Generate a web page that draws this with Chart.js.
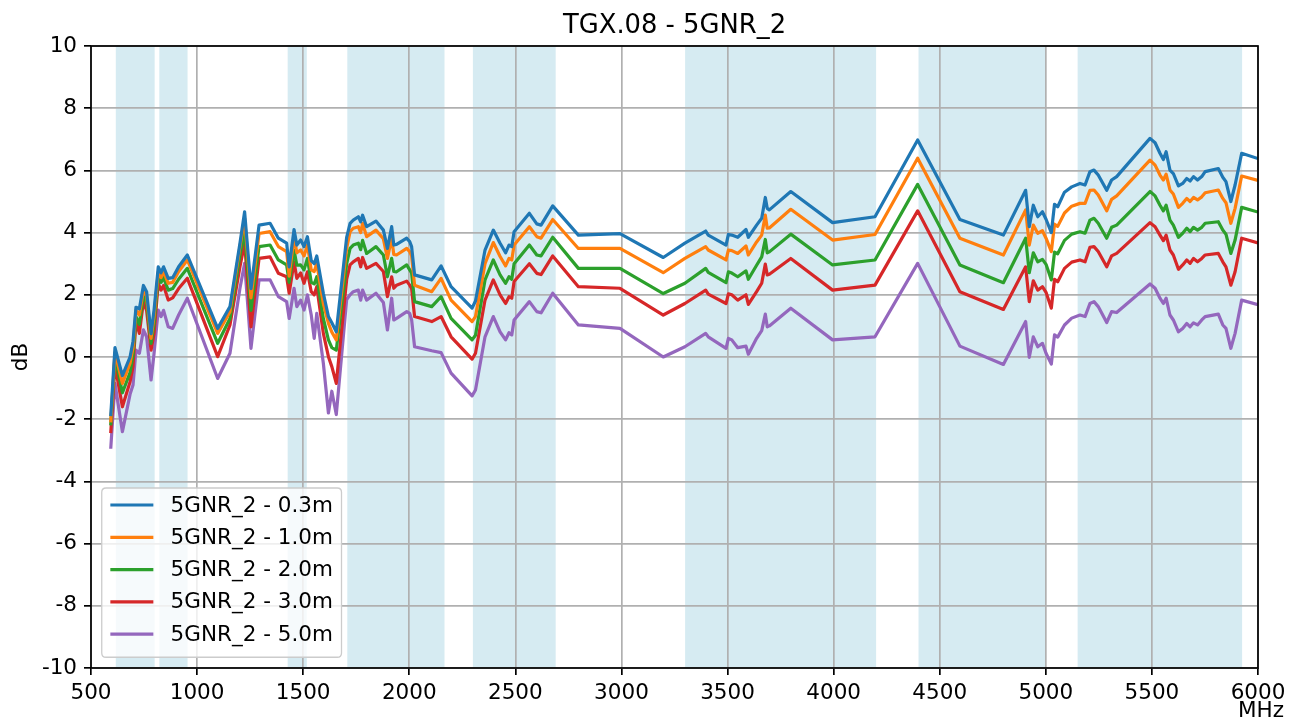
<!DOCTYPE html>
<html>
<head>
<meta charset="utf-8">
<title>TGX.08 - 5GNR_2</title>
<script src="https://cdn.jsdelivr.net/npm/chart.js@4/dist/chart.umd.min.js"></script>
<style>
  html, body { margin: 0; padding: 0; background: #ffffff; }
  #wrap { width: 1299px; height: 722px; }
</style>
</head>
<body>
<div id="wrap"><canvas id="chart" width="1299" height="722"></canvas></div>
<script>
// Frequency points (MHz), shared by all series
const freqMHz = [
  593, 613, 648, 684, 698, 712, 728, 747, 762, 783,
  797, 817, 830, 842, 864, 885, 913, 954, 1097, 1155,
  1202, 1224, 1254, 1292, 1344, 1383, 1422, 1434, 1457, 1470,
  1488, 1504, 1520, 1538, 1552, 1564, 1595, 1619, 1635, 1656,
  1705, 1721, 1736, 1760, 1771, 1780, 1799, 1843, 1878, 1897,
  1917, 1927, 1940, 1988, 2002, 2011, 2025, 2106, 2150, 2197,
  2296, 2312, 2357, 2396, 2428, 2454, 2470, 2483, 2494, 2566,
  2601, 2621, 2676, 2797, 2993, 3197, 3299, 3397, 3409, 3493,
  3504, 3520, 3548, 3587, 3598, 3637, 3661, 3678, 3687, 3697,
  3798, 3995, 4195, 4396, 4595, 4800, 4905, 4922, 4941, 4962,
  4984, 5001, 5026, 5041, 5056, 5088, 5122, 5161, 5185, 5208,
  5227, 5247, 5287, 5310, 5334, 5491, 5515, 5538, 5554, 5567,
  5585, 5601, 5625, 5645, 5664, 5680, 5696, 5715, 5735, 5751,
  5813, 5834, 5849, 5872, 5892, 5923, 6000
];

// Level (dB) per distance
const gain03m = [
  -1.9, 0.3, -0.6, 0.0, 0.5, 1.6, 1.55, 2.3, 2.1, 0.75,
  1.5, 2.9, 2.71, 2.9, 2.53, 2.55, 2.9, 3.28, 0.92, 1.62,
  3.66, 4.67, 2.2, 4.24, 4.3, 3.82, 3.66, 2.9, 4.1, 3.6,
  3.76, 3.55, 3.87, 3.1, 3.0, 3.25, 2.05, 1.3, 1.1, 0.81,
  3.85, 4.3, 4.4, 4.51, 4.35, 4.56, 4.19, 4.37, 4.08, 3.49,
  4.19, 3.6, 3.62, 3.82, 3.71, 3.55, 2.64, 2.48, 2.93, 2.26,
  1.57, 1.8, 3.44, 4.08, 3.66, 3.35, 3.6, 3.55, 4.03, 4.62,
  4.28, 4.24, 4.86, 3.92, 3.97, 3.2, 3.66, 4.05, 3.92, 3.6,
  3.94, 3.92, 3.85, 4.1, 3.85, 4.24, 4.46, 5.13, 4.78, 4.73,
  5.32, 4.32, 4.51, 6.98, 4.42, 3.92, 5.36, 4.19, 4.88, 4.51,
  4.67, 4.43, 4.0, 4.91, 4.83, 5.3, 5.47, 5.58, 5.53, 5.96,
  6.01, 5.85, 5.36, 5.69, 5.8, 7.03, 6.89, 6.55, 6.35, 6.6,
  6.01, 5.9, 5.5, 5.58, 5.74, 5.66, 5.8, 5.69, 5.8, 5.96,
  6.06, 5.78, 5.64, 5.0, 5.53, 6.55, 6.38
];
const gain10m = [
  -2.1, 0.15, -0.85, -0.2, 0.3, 1.5, 1.35, 2.15, 1.95, 0.6,
  1.3, 2.74, 2.55, 2.75, 2.37, 2.4, 2.75, 3.12, 0.76, 1.46,
  3.55, 4.46, 1.9, 3.97, 4.03, 3.55, 3.39, 2.6, 3.87, 3.35,
  3.44, 3.25, 3.6, 2.8, 2.75, 3.01, 1.72, 1.08, 0.8, 0.55,
  3.5, 4.03, 4.14, 4.19, 4.0, 4.3, 3.87, 4.08, 3.8, 3.17,
  3.82, 3.3, 3.28, 3.49, 3.39, 3.25, 2.31, 2.1, 2.53, 1.83,
  1.14, 1.3, 3.0, 3.68, 3.23, 2.93, 3.17, 3.12, 3.6, 4.19,
  3.87, 3.82, 4.42, 3.49, 3.49, 2.71, 3.17, 3.55, 3.44, 3.12,
  3.44, 3.42, 3.33, 3.57, 3.28, 3.7, 3.92, 4.56, 4.14, 4.15,
  4.75, 3.76, 3.94, 6.39, 3.82, 3.28, 4.73, 3.6, 4.24, 3.98,
  4.06, 3.82, 3.39, 4.27, 4.2, 4.63, 4.85, 4.94, 4.94, 5.36,
  5.37, 5.21, 4.7, 5.07, 5.18, 6.33, 6.17, 5.85, 5.69, 5.88,
  5.37, 5.24, 4.81, 4.94, 5.1, 5.0, 5.13, 5.05, 5.15, 5.28,
  5.37, 5.1, 4.96, 4.3, 4.78, 5.82, 5.68
];
const gain20m = [
  -2.2, 0.03, -1.15, -0.5, 0.05, 1.3, 1.05, 2.0, 1.75, 0.44,
  1.05, 2.58, 2.4, 2.55, 2.15, 2.2, 2.5, 2.85, 0.44, 1.24,
  3.28, 4.03, 1.5, 3.55, 3.6, 3.12, 2.96, 2.4, 3.44, 2.95,
  2.96, 2.8, 3.17, 2.4, 2.35, 2.58, 1.24, 0.55, 0.3, 0.22,
  3.0, 3.49, 3.6, 3.66, 3.45, 3.75, 3.33, 3.55, 3.28, 2.58,
  3.17, 2.75, 2.74, 2.96, 2.8, 2.7, 1.78, 1.62, 1.94, 1.24,
  0.55, 0.7, 2.48, 3.12, 2.64, 2.37, 2.58, 2.5, 3.0, 3.6,
  3.28, 3.25, 3.85, 2.85, 2.85, 2.04, 2.37, 2.85, 2.72, 2.39,
  2.74, 2.7, 2.58, 2.77, 2.5, 2.95, 3.22, 3.78, 3.35, 3.38,
  3.95, 2.96, 3.12, 5.55, 2.96, 2.39, 3.82, 2.71, 3.35, 3.06,
  3.14, 2.98, 2.48, 3.37, 3.32, 3.75, 3.95, 4.03, 3.98, 4.4,
  4.46, 4.3, 3.82, 4.17, 4.24, 5.32, 5.18, 4.88, 4.7, 4.88,
  4.4, 4.24, 3.85, 3.98, 4.14, 4.03, 4.17, 4.08, 4.17, 4.3,
  4.35, 4.08, 3.95, 3.33, 3.76, 4.81, 4.66
];
const gain30m = [
  -2.45, -0.25, -1.6, -0.8, -0.3, 1.14, 0.76, 1.78, 1.5, 0.22,
  0.75, 2.37, 2.15, 2.3, 1.83, 1.9, 2.2, 2.53, 0.01, 1.03,
  2.9, 3.66, 0.97, 3.17, 3.22, 2.69, 2.58, 2.05, 3.06, 2.53,
  2.7, 2.37, 2.74, 2.1, 2.0, 2.26, 0.76, 0.01, -0.31, -0.85,
  2.5, 2.96, 3.06, 3.17, 2.9, 3.2, 2.85, 3.01, 2.75, 1.94,
  2.58, 2.21, 2.31, 2.44, 2.31, 2.2, 1.3, 1.14, 1.3, 0.65,
  -0.07, 0.12, 1.83, 2.48, 2.0, 1.72, 1.94, 1.89, 2.43, 3.0,
  2.69, 2.65, 3.25, 2.26, 2.21, 1.35, 1.72, 2.15, 2.02, 1.72,
  2.03, 2.0, 1.83, 2.0, 1.69, 2.1, 2.37, 2.99, 2.64, 2.66,
  3.17, 2.15, 2.31, 4.7, 2.1, 1.53, 2.9, 1.78, 2.45, 2.15,
  2.26, 2.08, 1.57, 2.5, 2.42, 2.85, 3.05, 3.12, 3.06, 3.53,
  3.55, 3.39, 2.9, 3.25, 3.33, 4.32, 4.19, 3.92, 3.74, 3.92,
  3.44, 3.28, 2.82, 2.96, 3.12, 3.01, 3.17, 3.06, 3.17, 3.28,
  3.33, 3.06, 2.9, 2.31, 2.74, 3.82, 3.67
];
const gain50m = [
  -2.95, -0.85, -2.4, -1.2, -0.9, 0.22, 0.12, 0.87, 0.65, -0.74,
  0.1, 1.51, 1.3, 1.5, 0.97, 0.92, 1.35, 1.89, -0.69, 0.12,
  2.21, 3.01, 0.28, 2.48, 2.48, 1.94, 1.78, 1.24, 2.21, 1.62,
  1.83, 1.51, 2.0, 1.35, 0.6, 1.4, -0.2, -1.8, -1.1, -1.85,
  1.85, 2.0, 2.1, 2.15, 1.83, 2.15, 1.83, 2.05, 1.75, 0.87,
  1.89, 1.19, 1.24, 1.46, 1.4, 1.2, 0.33, 0.2, 0.14, -0.52,
  -1.25, -1.06, 0.65, 1.3, 0.81, 0.55, 0.78, 0.71, 1.19, 1.78,
  1.46, 1.42, 2.05, 1.03, 0.92, 0.0, 0.33, 0.76, 0.65, 0.28,
  0.6, 0.55, 0.3, 0.35, 0.09, 0.6, 0.85, 1.38, 0.97, 1.0,
  1.57, 0.55, 0.65, 3.01, 0.35, -0.24, 1.14, -0.01, 0.65, 0.33,
  0.44, 0.12, -0.23, 0.71, 0.64, 1.03, 1.25, 1.35, 1.3, 1.72,
  1.78, 1.62, 1.11, 1.46, 1.43, 2.35, 2.21, 1.89, 1.72, 1.89,
  1.35, 1.19, 0.81, 0.92, 1.08, 0.97, 1.1, 1.03, 1.19, 1.3,
  1.38, 1.03, 0.92, 0.28, 0.76, 1.83, 1.68
];

const seriesLabels = ['5GNR_2 - 0.3m', '5GNR_2 - 1.0m', '5GNR_2 - 2.0m', '5GNR_2 - 3.0m', '5GNR_2 - 5.0m'];
const seriesColors = ['#1f77b4', '#ff7f0e', '#2ca02c', '#d62728', '#9467bd'];

// 5G NR operating bands shaded in the background (MHz)
const bandStart = [617, 822, 1427, 1708, 2300, 3300, 4400, 5150];
const bandEnd   = [800, 955, 1517, 2166, 2690, 4200, 5000, 5925];

const xTicks = [500, 1000, 1500, 2000, 2500, 3000, 3500, 4000, 4500, 5000, 5500, 6000];
const yTicks = [-10, -8, -6, -4, -2, 0, 2, 4, 6, 8, 10];

const titleText = 'TGX.08 - 5GNR_2';
const xUnit = 'MHz';
const yUnit = 'dB';

const FONT = "'DejaVu Sans', 'Liberation Sans', sans-serif";
const FS = 21.5;

const allSeries = [gain03m, gain10m, gain20m, gain30m, gain50m];

const datasets = allSeries.map((vals, k) => ({
  label: seriesLabels[k],
  data: freqMHz.map((f, i) => ({ x: f, y: vals[i] })),
  borderColor: seriesColors[k],
  backgroundColor: seriesColors[k],
  borderWidth: 3.2,
  pointRadius: 0,
  tension: 0,
  fill: false,
  borderJoinStyle: 'round',
  borderCapStyle: 'butt'
}));

// Shaded frequency bands, drawn below the grid
const bandPlugin = {
  id: 'bands',
  beforeDraw(chart) {
    const { ctx, chartArea: a, scales: { x } } = chart;
    ctx.save();
    ctx.fillStyle = 'rgba(173, 216, 230, 0.5)';
    for (let i = 0; i < bandStart.length; i++) {
      const x0 = x.getPixelForValue(bandStart[i]);
      const x1 = x.getPixelForValue(bandEnd[i]);
      ctx.fillRect(x0, a.top, x1 - x0, a.bottom - a.top);
    }
    ctx.restore();
  }
};

// Frame, title, axis names and the legend box
const decorPlugin = {
  id: 'decor',
  afterDatasetsDraw(chart) {
    const { ctx, chartArea: a } = chart;
    ctx.save();
    ctx.strokeStyle = '#000000';
    ctx.lineWidth = 1.7;
    ctx.strokeRect(a.left, a.top, a.right - a.left, a.bottom - a.top);
    ctx.restore();
  },
  afterDraw(chart) {
    const { ctx, chartArea: a } = chart;
    ctx.save();
    ctx.fillStyle = '#000000';
    // title
    ctx.font = `${FS * 1.2}px ${FONT}`;
    ctx.textAlign = 'center';
    ctx.textBaseline = 'alphabetic';
    ctx.fillText(titleText, (a.left + a.right) / 2, 33);
    // axis names
    ctx.font = `${FS}px ${FONT}`;
    ctx.textBaseline = 'middle';
    ctx.fillText(xUnit, 1261, 711);
    ctx.translate(21, (a.top + a.bottom) / 2);
    ctx.rotate(-Math.PI / 2);
    ctx.fillText(yUnit, 0, 0);
    ctx.restore();

    // legend
    ctx.save();
    ctx.font = `${FS}px ${FONT}`;
    const pad = 0.4 * FS;
    const left = a.left + 0.5 * FS;
    const bottom = a.bottom - 0.5 * FS;
    const rowH = 32.3;
    const handleX0 = left + pad;
    const handleLen = 2 * FS;
    const textX = handleX0 + handleLen + 0.8 * FS;
    let maxW = 0;
    seriesLabels.forEach(t => { maxW = Math.max(maxW, ctx.measureText(t).width); });
    const right = textX + maxW + pad;
    const top = 488;
    const r = 0.2 * FS;
    ctx.beginPath();
    ctx.moveTo(left + r, top);
    ctx.lineTo(right - r, top);
    ctx.quadraticCurveTo(right, top, right, top + r);
    ctx.lineTo(right, bottom - r);
    ctx.quadraticCurveTo(right, bottom, right - r, bottom);
    ctx.lineTo(left + r, bottom);
    ctx.quadraticCurveTo(left, bottom, left, bottom - r);
    ctx.lineTo(left, top + r);
    ctx.quadraticCurveTo(left, top, left + r, top);
    ctx.closePath();
    ctx.fillStyle = 'rgba(255,255,255,0.8)';
    ctx.fill();
    ctx.strokeStyle = '#cccccc';
    ctx.lineWidth = 1.3;
    ctx.stroke();
    ctx.textAlign = 'left';
    ctx.textBaseline = 'middle';
    seriesLabels.forEach((t, k) => {
      const y = 505 + k * rowH;
      ctx.strokeStyle = seriesColors[k];
      ctx.lineWidth = 3.2;
      ctx.beginPath();
      ctx.moveTo(handleX0, y);
      ctx.lineTo(handleX0 + handleLen, y);
      ctx.stroke();
      ctx.fillStyle = '#000000';
      ctx.fillText(t, textX, y + 1);
    });
    ctx.restore();
  }
};

const tickFont = { family: FONT, size: FS };

new Chart(document.getElementById('chart'), {
  type: 'line',
  data: { datasets },
  plugins: [bandPlugin, decorPlugin],
  options: {
    responsive: false,
    animation: false,
    devicePixelRatio: 1,
    layout: { padding: { top: 46, right: 41, left: 0, bottom: 0 } },
    plugins: {
      legend: { display: false },
      title: { display: false },
      tooltip: { enabled: false }
    },
    scales: {
      x: {
        type: 'linear',
        min: 500,
        max: 6000,
        afterFit(s) { s.height = 54; },
        afterBuildTicks(s) { s.ticks = xTicks.map(v => ({ value: v })); },
        ticks: {
          font: tickFont, color: '#000000', padding: 6, maxRotation: 0, autoSkip: false,
          callback: v => String(v)
        },
        grid: { color: '#b0b0b0', lineWidth: 1.7, tickColor: '#000000', tickLength: 7, drawTicks: true },
        border: { display: false }
      },
      y: {
        type: 'linear',
        min: -10,
        max: 10,
        afterFit(s) { s.width = 91; },
        afterBuildTicks(s) { s.ticks = yTicks.map(v => ({ value: v })); },
        ticks: { font: tickFont, color: '#000000', padding: 7, callback: v => String(v) },
        grid: { color: '#b0b0b0', lineWidth: 1.7, tickColor: '#000000', tickLength: 7, drawTicks: true },
        border: { display: false }
      }
    }
  }
});
</script>
</body>
</html>
